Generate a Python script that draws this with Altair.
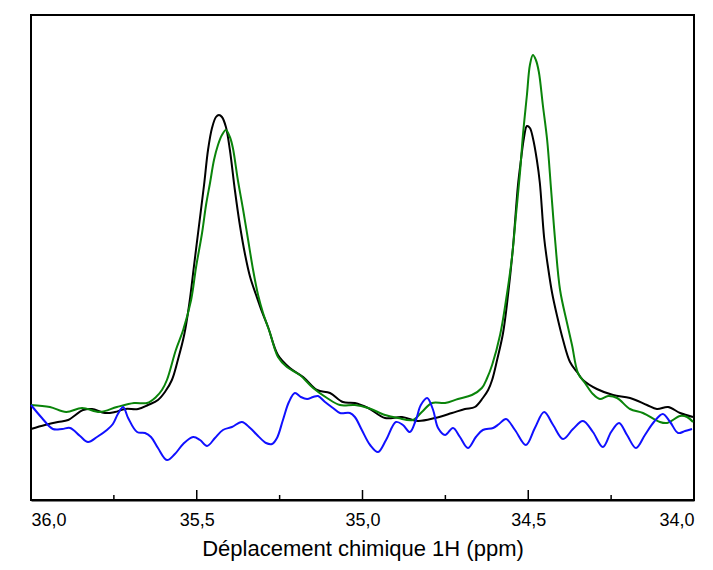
import altair as alt
import pandas as pd

# Chemical shift (ppm) and intensity (arbitrary units)
black_ppm = [36.000, 35.958, 35.919, 35.888, 35.843, 35.816, 35.777, 35.747, 35.716, 35.677,
             35.647, 35.617, 35.596, 35.575, 35.557, 35.538, 35.523, 35.508, 35.493, 35.478,
             35.466, 35.454, 35.442, 35.433, 35.424, 35.412, 35.400, 35.385, 35.370, 35.354,
             35.339, 35.321, 35.303, 35.285, 35.255, 35.219, 35.179, 35.137, 35.098, 35.059,
             35.023, 34.983, 34.932, 34.881, 34.833, 34.781, 34.730, 34.691, 34.661, 34.637,
             34.621, 34.609, 34.594, 34.576, 34.561, 34.546, 34.531, 34.522, 34.513, 34.504,
             34.495, 34.486, 34.474, 34.465, 34.452, 34.440, 34.428, 34.413, 34.395, 34.374,
             34.353, 34.335, 34.293, 34.244, 34.193, 34.142, 34.112, 34.078, 34.042, 34.003]
black_int = [71, 75, 78, 80, 90, 91, 87, 88, 91, 91,
             95, 100, 108, 120, 140, 165, 195, 235, 275, 315,
             350, 372, 383, 385, 383, 373, 350, 310, 275, 245,
             223, 205, 188, 173, 145, 132, 123, 110, 107, 98,
             97, 92, 82, 83, 79, 82, 87, 91, 93, 102,
             110, 120, 140, 167, 205, 253, 315, 340, 362, 374,
             372, 362, 340, 317, 262, 232, 207, 184, 160, 138,
             128, 120, 111, 105, 102, 95, 91, 93, 87, 83]

green_ppm = [36.000, 35.943, 35.894, 35.846, 35.792, 35.741, 35.689, 35.650, 35.623, 35.605,
             35.590, 35.563, 35.541, 35.517, 35.502, 35.484, 35.472, 35.460, 35.448, 35.436,
             35.424, 35.412, 35.400, 35.391, 35.376, 35.360, 35.345, 35.330, 35.315, 35.300,
             35.279, 35.255, 35.228, 35.189, 35.149, 35.107, 35.068, 35.023, 34.983, 34.932,
             34.893, 34.848, 34.821, 34.790, 34.751, 34.712, 34.670, 34.640, 34.624, 34.609,
             34.585, 34.567, 34.549, 34.537, 34.525, 34.516, 34.504, 34.495, 34.486, 34.477,
             34.468, 34.456, 34.443, 34.431, 34.419, 34.404, 34.383, 34.368, 34.350, 34.329,
             34.305, 34.284, 34.259, 34.232, 34.193, 34.154, 34.103, 34.081, 34.042, 34.021,
             34.003]
green_int = [95, 93, 88, 92, 88, 93, 97, 97, 103, 110,
             120, 150, 170, 200, 233, 267, 295, 317, 340, 355,
             365, 370, 363, 352, 320, 290, 260, 230, 205, 187,
             167, 143, 133, 125, 112, 102, 95, 95, 92, 85,
             82, 80, 88, 97, 97, 101, 105, 112, 122, 135,
             165, 200, 243, 285, 327, 365, 405, 435, 445, 440,
             428, 395, 360, 310, 260, 210, 177, 155, 127, 117,
             106, 101, 104, 102, 91, 87, 78, 77, 84, 83,
             78]

blue_ppm = [36.000, 35.967, 35.934, 35.906, 35.882, 35.852, 35.828, 35.801, 35.771, 35.753,
            35.738, 35.722, 35.707, 35.680, 35.656, 35.638, 35.617, 35.590, 35.566, 35.541,
            35.511, 35.490, 35.469, 35.445, 35.421, 35.394, 35.364, 35.339, 35.315, 35.291,
            35.273, 35.258, 35.240, 35.222, 35.204, 35.186, 35.167, 35.149, 35.134, 35.113,
            35.089, 35.068, 35.038, 35.023, 35.002, 34.977, 34.953, 34.929, 34.899, 34.878,
            34.857, 34.839, 34.824, 34.805, 34.787, 34.772, 34.751, 34.727, 34.706, 34.682,
            34.658, 34.637, 34.606, 34.588, 34.567, 34.540, 34.507, 34.480, 34.452, 34.425,
            34.395, 34.365, 34.335, 34.305, 34.275, 34.250, 34.226, 34.202, 34.175, 34.148,
            34.121, 34.094, 34.072, 34.048, 34.027, 34.006]
blue_int = [95, 82, 71, 71, 72, 64, 58, 63, 70, 76,
            86, 93, 82, 68, 67, 63, 52, 40, 46, 56,
            63, 60, 54, 62, 70, 73, 78, 72, 64, 57,
            56, 62, 80, 98, 107, 103, 101, 103, 104, 98,
            92, 87, 87, 83, 70, 55, 48, 60, 78, 75,
            68, 80, 95, 102, 90, 72, 65, 72, 63, 52,
            63, 70, 72, 76, 81, 70, 55, 72, 88, 75,
            61, 71, 79, 68, 53, 68, 77, 65, 52, 65,
            78, 86, 78, 67, 69, 71]

major_ticks = [36.0, 35.5, 35.0, 34.5, 34.0]
minor_ticks = [35.75, 35.25, 34.75, 34.25]

x_scale = alt.Scale(domain=[34, 36], reverse=True, nice=False, zero=False)
y_scale = alt.Scale(domain=[0, 485], nice=False, zero=False)

x_axis = alt.Axis(
    values=major_ticks,
    labelExpr="replace(format(datum.value, '.1f'), '.', ',')",
    ticks=False,
    grid=False,
    domain=True,
    domainColor="black",
    domainWidth=2,
    labelFont="Liberation Sans",
    labelFontSize=18,
    labelColor="black",
    labelPadding=11,
    title="Déplacement chimique 1H (ppm)",
    titleFont="Liberation Sans",
    titleFontSize=22,
    titleFontWeight="normal",
    titleColor="black",
    titlePadding=9,
)


def series(ppm, inten, color):
    df = pd.DataFrame({"ppm": ppm, "intensity": inten})
    return alt.Chart(df).mark_line(color=color, strokeWidth=2, interpolate="catmull-rom").encode(
        x=alt.X("ppm:Q", scale=x_scale, axis=x_axis),
        y=alt.Y("intensity:Q", scale=y_scale, axis=None),
    )


black = series(black_ppm, black_int, "#000000")
green = series(green_ppm, green_int, "#0a840a")
blue = series(blue_ppm, blue_int, "#1010ff")

major = alt.Chart(pd.DataFrame({"ppm": major_ticks})).mark_rule(color="black", strokeWidth=1.5).encode(
    x=alt.X("ppm:Q", scale=x_scale, axis=x_axis),
    y=alt.value(485),
    y2=alt.value(475),
)
minor = alt.Chart(pd.DataFrame({"ppm": minor_ticks})).mark_rule(color="black", strokeWidth=1.5).encode(
    x=alt.X("ppm:Q", scale=x_scale, axis=x_axis),
    y=alt.value(485),
    y2=alt.value(480),
)

chart = alt.layer(black, green, blue, major, minor).properties(
    width=663,
    height=485,
    autosize=alt.AutoSizeParams(type="none"),
    padding={"left": 23, "top": 7, "right": 11, "bottom": 62},
    background="white",
).configure_view(stroke="black", strokeWidth=2)

chart.save("out.html", embed_options={"renderer": "svg", "actions": False})
